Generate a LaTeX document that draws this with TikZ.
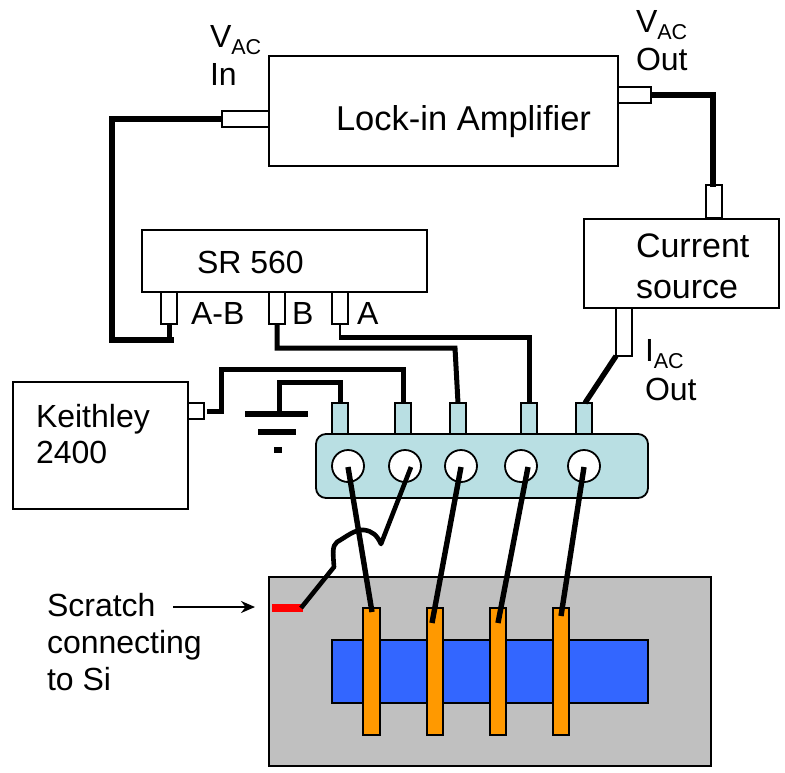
\documentclass[tikz,border=0pt]{standalone}
\usepackage{fontspec}
\setmainfont{Liberation Sans}
\usetikzlibrary{arrows.meta,calc}
\definecolor{teal0}{HTML}{B9DFE3}
\definecolor{gray0}{HTML}{C0C0C0}
\definecolor{blue0}{HTML}{3366FF}
\definecolor{orange0}{HTML}{FF9900}
\newcommand{\sbx}[1]{\raisebox{-.22em}{\fontsize{21.5}{21.5}\selectfont #1}}
% \bx{name}{style}{x1}{y1}{x2}{y2}
\newcommand{\bx}[6]{\path let \p1=(#3,#4), \p2=(#5,#6), \n1={abs(\x2-\x1)}, \n2={abs(\y2-\y1)} in
  node[#2, anchor=north west, minimum width=\n1, minimum height=\n2] (#1) at (\p1) {};}
\tikzset{
  x=1pt,y=-1pt,
  box/.style={draw=black,fill=white,line width=1.8pt,inner sep=0pt,outer sep=0pt},
  plug/.style={box,line width=1.7pt},
  tplug/.style={box,fill=teal0,line width=1.7pt},
  strip/.style={box,fill=orange0,line width=2pt},
  wire/.style={draw=black,line width=5pt,line cap=butt,line join=miter},
  lead/.style={draw=black,line width=5.4pt,line cap=butt},
  lbl/.style={anchor=base west,inner sep=0pt,outer sep=0pt,font=\fontsize{32}{32}\selectfont},
  lblbig/.style={lbl,font=\fontsize{34.5}{34.5}\selectfont},
  lblmid/.style={lbl,font=\fontsize{34}{34}\selectfont},
  hole/.style={circle,draw=black,fill=white,line width=1.8pt,minimum size=32pt,inner sep=0pt,outer sep=0pt},
}
\begin{document}
\begin{tikzpicture}
\useasboundingbox (0,0) rectangle (785,772);
% sample
\bx{chip}{box,fill=gray0,line width=2pt}{269}{577}{711}{766}
\bx{film}{box,fill=blue0,line width=2pt}{332}{640}{648}{703}
\bx{s1}{strip}{363}{608}{380}{735}
\bx{s2}{strip}{427}{608}{443}{735}
\bx{s3}{strip}{490}{608}{506}{735}
\bx{s4}{strip}{553}{608}{569}{735}
\bx{scr}{draw=none,fill=red,inner sep=0pt,outer sep=0pt}{272}{604}{303}{612}
% instruments
\bx{lock}{box}{269}{56}{618}{166}
\bx{sr}{box}{142}{230}{427}{292}
\bx{cur}{box}{584}{219}{779}{308}
\bx{kei}{box}{13}{382}{188}{509}
\bx{pin}{plug}{222}{111}{269}{127}
\bx{pout}{plug}{618}{87}{651}{103}
\bx{pcur}{plug}{706}{185}{722}{218}
\bx{pab}{plug}{161}{292}{177}{324}
\bx{pb}{plug}{269}{292}{285}{324}
\bx{pa}{plug}{332}{292}{348}{324}
\bx{piac}{plug}{616}{308}{632}{356}
\bx{pkei}{plug}{188}{403}{204}{419}
% junction box
\bx{t1}{tplug}{332}{403}{348}{435}
\bx{t2}{tplug}{395}{403}{411}{435}
\bx{t3}{tplug}{450}{403}{466}{435}
\bx{t4}{tplug}{521}{403}{537}{435}
\bx{t5}{tplug}{576}{403}{592}{435}
\bx{jbox}{box,fill=teal0,rounded corners=10pt}{316}{434}{648}{498}
\node[hole] (h1) at (348,466) {};
\node[hole] (h2) at (405,466) {};
\node[hole] (h3) at (461,466) {};
\node[hole] (h4) at (521,466) {};
\node[hole] (h5) at (584,466) {};
% ground
\coordinate (g1) at (245,414); \coordinate (g2) at (308,414);
\coordinate (g3) at (258,432); \coordinate (g4) at (296,432);
\coordinate (g5) at (274,450); \coordinate (g6) at (282,450);
\coordinate (gw) at (279,414);
\draw[wire,line width=5.6pt] (g1) -- (g2);
\draw[wire,line width=5.6pt] (g3) -- (g4);
\draw[wire,line width=5.6pt] (g5) -- (g6);
% wires
\coordinate (w1) at (112,119);
\coordinate (w2) at (112,340);
\draw[wire,line width=5.6pt] (pin.west) -- (w1) -- (w2) -- (174,340);
\draw[wire] (169,324) -- (169,340);
\draw[wire,line width=5.6pt] (pout.east) -- (713,95) -- (713,187);
\draw[wire] (277,324) -- (277,348) -- (455,348) -- (458,403);
\draw[wire,line width=2.4pt] (340,324) -- (340,337);
\draw[wire] (339,337) -- (529,337) -- (529,403);
\draw[wire] (207,411) -- (221,411) -- (221,369) -- (403,369) -- (403,403);
\draw[wire] (gw) -- (279,382) -- (340,382) -- (340,403);
\draw[lead] (piac.south west) -- (585,403);
\draw[lead] (h1.center) ++(0,1) -- (372,612);
\draw[lead] (h3.center) ++(0,1) -- (432,623);
\draw[lead] (h4.center) ++(7,1) -- (498,623);
\draw[lead] (h5.center) ++(0,1) -- (561,616);
\draw[draw=black,line width=4.6pt,line join=round] (411,467) -- (381,544)
  .. controls (377,535) and (372,531) .. (364,530)
  .. controls (355,529) and (346,537) .. (337,542)
  .. controls (332,546) and (333,553) .. (334,567) -- (301,608);
% arrow
\coordinate (a1) at (173,607); \coordinate (a2) at (255,607);
\draw[line width=2.2pt,-{Stealth[length=14pt,width=12pt]}] (a1) -- (a2);
% text
\node[lbl] (tl1) at (210,47) {V\sbx{AC}};
\node[lbl] (tl2) at (210,85) {In};
\node[lbl] (tl3) at (636,32) {V\sbx{AC}};
\node[lbl] (tl4) at (636,70) {Out};
\node[lblbig] (tl5) at (336,130) {Lock-in Amplifier};
\node[lbl] (tl6) at (197,273) {SR 560};
\node[lblmid] (tl7) at (636,257) {Current};
\node[lblmid] (tl8) at (636,298) {source};
\node[lbl] (tl9) at (191,324) {A-B};
\node[lbl] (tl10) at (292,324) {B};
\node[lbl] (tl11) at (357,324) {A};
\node[lbl] (tl12) at (645,361) {I\sbx{AC}};
\node[lbl] (tl13) at (645,400) {Out};
\node[lbl] (tl14) at (36,427) {Keithley};
\node[lbl] (tl15) at (36,463) {2400};
\node[lbl] (tl16) at (47,616) {Scratch};
\node[lbl] (tl17) at (47,653) {connecting};
\node[lbl] (tl18) at (47,690) {to Si};
\end{tikzpicture}
\end{document}
